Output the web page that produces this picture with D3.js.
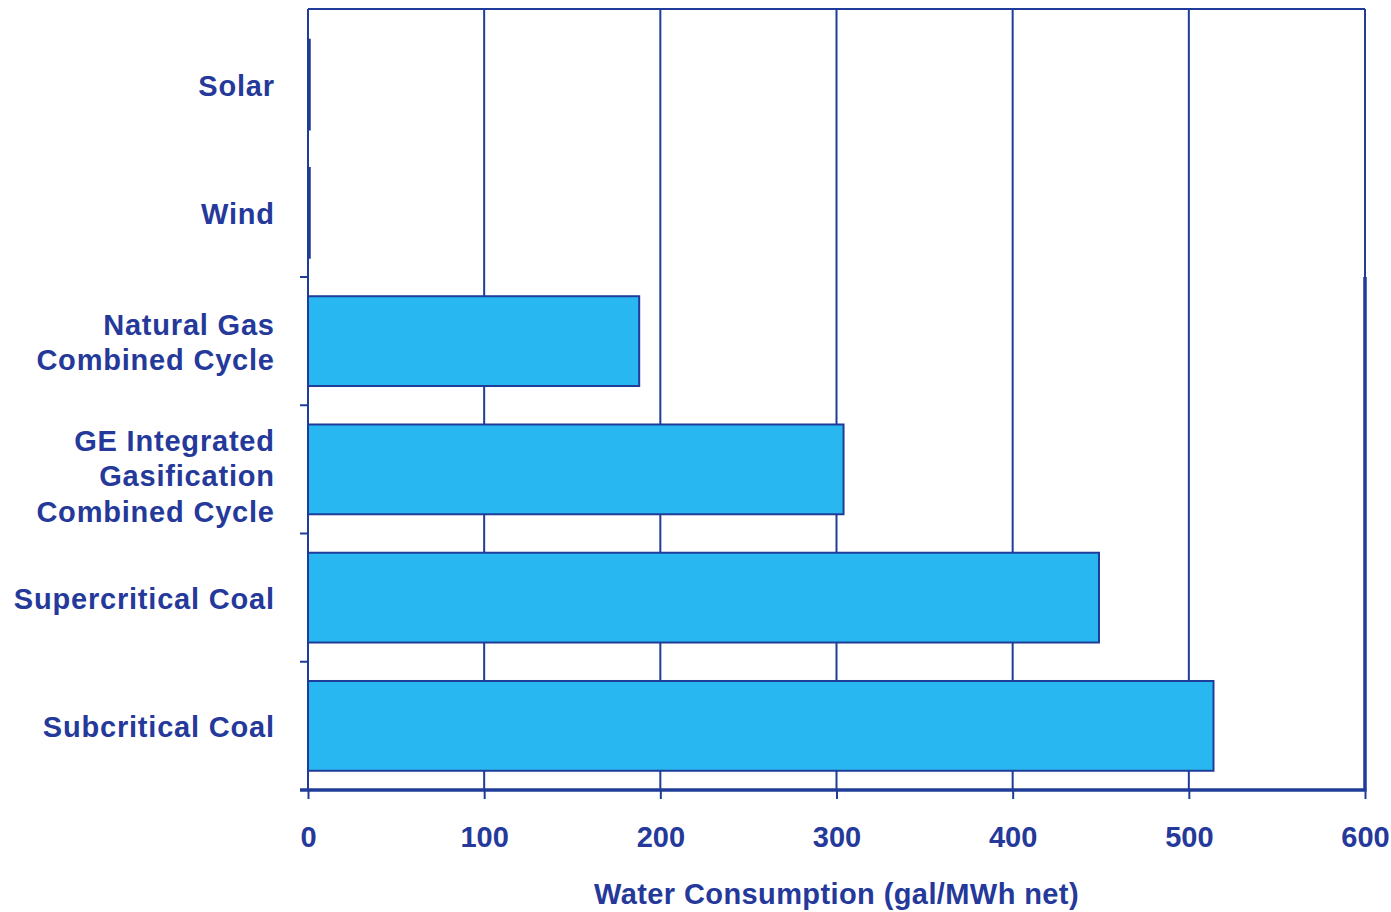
<!DOCTYPE html>
<html>
<head>
<meta charset="utf-8">
<script src="https://cdn.jsdelivr.net/npm/d3@7/dist/d3.min.js"></script>
<style>
  html, body { margin: 0; padding: 0; background: #ffffff; }
  svg text { font-family: "Liberation Sans", Arial, sans-serif; font-weight: bold; fill: #25399a; }
</style>
</head>
<body>
<svg id="chart" width="1391" height="912"></svg>
<script>
// ---- data ----
const categories = [
  ["Solar"],
  ["Wind"],
  ["Natural Gas", "Combined Cycle"],
  ["GE Integrated", "Gasification", "Combined Cycle"],
  ["Supercritical Coal"],
  ["Subcritical Coal"]
];
const values = [1, 1, 188, 304, 449, 514];
const xTicks = [0, 100, 200, 300, 400, 500, 600];
const axisTitle = "Water Consumption (gal/MWh net)";

// ---- layout ----
(function () {
const svg = d3.select("#chart");
const pLeft = 308, pRight = 1365, pTop = 9, pBottom = 790;
const lineColor = "#1f3d98";
const barFill = "#29b7f2";

const keys = categories.map((c, i) => i);
const x = d3.scaleLinear().domain([0, 600]).range([pLeft, pRight]);
const y = d3.scaleBand().domain(keys).range([pBottom - 6 * 128.25, pBottom])
  .paddingInner(0.3).paddingOuter(0.15);

// grid lines
svg.append("g").selectAll("line").data(xTicks.filter(t => t > 0 && t < 600)).join("line")
  .attr("x1", d => x(d)).attr("x2", d => x(d))
  .attr("y1", pTop).attr("y2", pBottom)
  .attr("stroke", lineColor).attr("stroke-width", 2);

// top frame line
svg.append("line").attr("x1", pLeft).attr("x2", pRight).attr("y1", pTop).attr("y2", pTop)
  .attr("stroke", lineColor).attr("stroke-width", 2);
// right frame: thin top part, thick lower part
const boundary = i => y.range()[0] + i * y.step();
svg.append("line").attr("x1", pRight).attr("x2", pRight).attr("y1", pTop).attr("y2", boundary(2))
  .attr("stroke", lineColor).attr("stroke-width", 2);
svg.append("line").attr("x1", pRight).attr("x2", pRight).attr("y1", boundary(2)).attr("y2", pBottom)
  .attr("stroke", lineColor).attr("stroke-width", 3.5);

// bars
svg.append("g").selectAll("rect").data(values).join("rect")
  .attr("x", x(0))
  .attr("y", (d, i) => y(i))
  .attr("width", d => x(d) - x(0))
  .attr("height", y.bandwidth())
  .attr("fill", barFill)
  .attr("stroke", lineColor)
  .attr("stroke-width", 2);

// left axis line
svg.append("line").attr("x1", pLeft).attr("x2", pLeft).attr("y1", pTop).attr("y2", pBottom)
  .attr("stroke", lineColor).attr("stroke-width", 2);

// left tick marks at category boundaries
svg.append("g").selectAll("line").data(d3.range(2, 7)).join("line")
  .attr("x1", pLeft - 8).attr("x2", pLeft)
  .attr("y1", d => boundary(d)).attr("y2", d => boundary(d))
  .attr("stroke", lineColor).attr("stroke-width", 2);

// bottom axis
const xAxis = d3.axisBottom(x).tickValues(xTicks).tickSize(9).tickPadding(27).tickFormat(d3.format("d"));
const gx = svg.append("g").attr("transform", `translate(0,${pBottom})`).call(xAxis);
gx.select(".domain").remove();
gx.selectAll(".tick line").attr("stroke", lineColor).attr("stroke-width", 2);
gx.selectAll(".tick text").attr("font-size", 29).attr("fill", "#25399a")
  .style("font-family", '"Liberation Sans", Arial, sans-serif').style("font-weight", "bold");
svg.append("line").attr("x1", pLeft - 8).attr("x2", pRight + 1.5).attr("y1", pBottom).attr("y2", pBottom)
  .attr("stroke", lineColor).attr("stroke-width", 3.5);

// category labels
const labelG = svg.append("g");
const ls = 0.8;
categories.forEach((lines, i) => {
  const lh = 35.5;
  const cy = y(i) + y.bandwidth() / 2 + (lines.length === 3 ? 7 : 1.5);
  const startY = cy - (lines.length - 1) * lh / 2;
  const t = labelG.append("text")
    .attr("text-anchor", "end")
    .attr("font-size", 29)
    .attr("letter-spacing", ls)
    .attr("dominant-baseline", "central");
  lines.forEach((ln, j) => {
    t.append("tspan").attr("x", 274 + ls).attr("y", startY + j * lh).text(ln);
  });
});

// axis title
svg.append("text")
  .attr("x", (x(0) + x(600)) / 2)
  .attr("y", 894)
  .attr("text-anchor", "middle")
  .attr("dominant-baseline", "central")
  .attr("font-size", 29)
  .attr("letter-spacing", 0.4)
  .text(axisTitle);
})();
</script>
</body>
</html>
